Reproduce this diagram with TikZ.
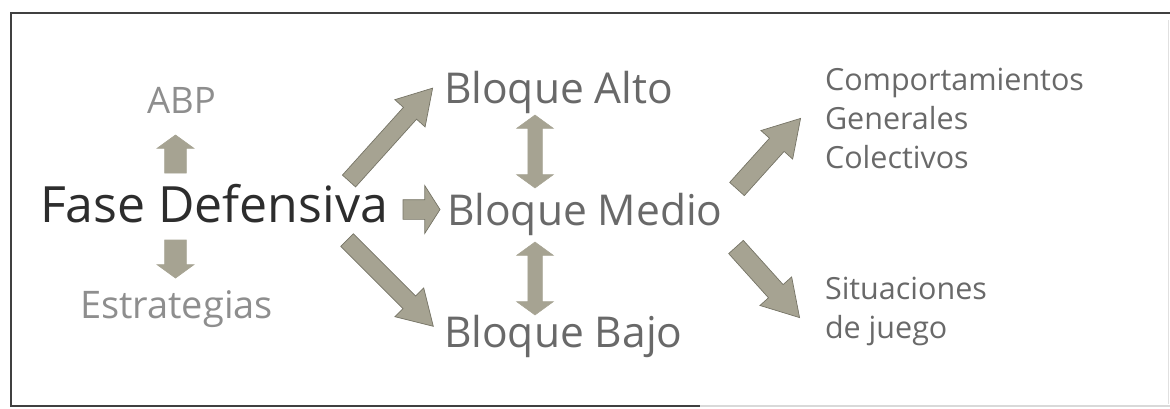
\documentclass[tikz,border=0pt]{standalone}
\usepackage{fontspec}
\setmainfont{Open Sans}
\usetikzlibrary{shapes.arrows}

\definecolor{flecha}{RGB}{166,163,146}
\definecolor{flechaborde}{RGB}{118,116,102}
\definecolor{textoosc}{RGB}{45,45,45}
\definecolor{textomed}{RGB}{105,105,105}
\definecolor{textoclaro}{RGB}{142,142,142}

\tikzset{
  etiqueta/.style={anchor=base west, inner sep=0pt, outer sep=0pt},
  flechauna/.style={single arrow, fill=flecha, draw=flechaborde, line width=0.7pt,
    anchor=tail, outer sep=0pt},
  flechados/.style={double arrow, fill=flecha, draw=flecha, line width=0.5pt,
    outer sep=0pt, inner sep=7pt, double arrow head extend=11pt,
    double arrow tip angle=108, minimum height=73pt, rotate=90},
  grande/.style={flechauna, inner sep=8.5pt, single arrow head extend=11.5pt,
    single arrow tip angle=62},
  chica/.style={flechauna, draw=flecha, inner sep=10.5pt, single arrow head extend=7.5pt,
    single arrow tip angle=108, minimum height=38pt}
}

\begin{document}
\begin{tikzpicture}[x=1pt,y=-1pt]
\useasboundingbox (0,0) rectangle (1170,408);
% marco
\draw[line width=2pt,black!75] (1170,13) -- (11,13) -- (11,406) -- (700,406);
\draw[line width=2pt,black!15] (700,406) -- (1170,406);
\draw[line width=0.8pt,black!12] (1168,20) -- (1168,404);

% textos
\node[etiqueta, text=textoosc, font=\fontsize{50}{60}\selectfont] (fase) at (40,222) {Fase Defensiva};
\node[etiqueta, text=textoclaro, font=\fontsize{36.5}{44}\selectfont] (abp) at (147,113) {ABP};
\node[etiqueta, text=textoclaro, font=\fontsize{38}{46}\selectfont] (estrategias) at (80,318) {Estrategias};
\node[etiqueta, text=textomed, font=\fontsize{42.5}{50}\selectfont] (alto) at (444,103) {Bloque Alto};
\node[etiqueta, text=textomed, font=\fontsize{42.5}{50}\selectfont] (medio) at (447,225) {Bloque Medio};
\node[etiqueta, text=textomed, font=\fontsize{42.5}{50}\selectfont] (bajo) at (444,347) {Bloque Bajo};
% la base de un texto de varias lineas es la de su ultima linea
\node[etiqueta, text=textomed, align=left, font=\fontsize{30.5}{39}\selectfont] (comport) at (825,168) {Comportamientos\\Generales\\Colectivos};
\node[etiqueta, text=textomed, align=left, font=\fontsize{30.5}{39}\selectfont] (situac) at (825,338) {Situaciones\\de juego};

% flechas
\node[chica, rotate=90] (fabp) at (175.5,173) {};
\node[chica, rotate=-90] (festr) at (175.5,240) {};
\node[flechauna, inner sep=9.5pt, single arrow head extend=14pt,
  single arrow tip angle=115, minimum height=37pt] (fmedio) at (403,209.5) {};
\node[grande, rotate=48, minimum height=125pt] (falto) at (349,181) {};
\node[grande, rotate=-45, minimum height=122pt] (fbajo) at (347,240) {};
\node[grande, inner sep=9.5pt, rotate=48, minimum height=95pt] (fcomport) at (737,189) {};
\node[grande, inner sep=9.5pt, rotate=-48, minimum height=95pt] (fsituac) at (736,247) {};
\node[flechados] (daltomedio) at (535,151.5) {};
\node[flechados] (dmediobajo) at (535,278.5) {};
\end{tikzpicture}
\end{document}
